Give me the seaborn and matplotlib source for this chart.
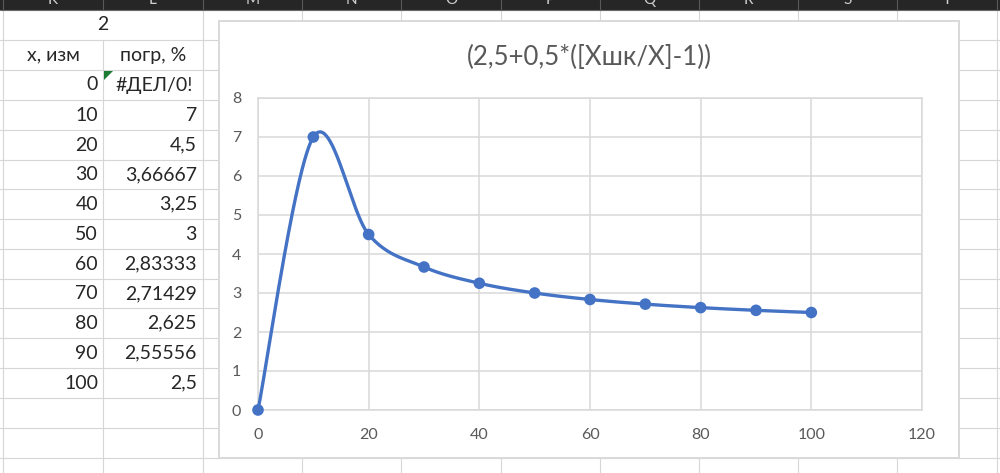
import numpy as np
import matplotlib
matplotlib.use("Agg")
import matplotlib.pyplot as plt
import seaborn as sns
from matplotlib.patches import Rectangle, Polygon

# данные из листа
x_izm = np.array([0, 10, 20, 30, 40, 50, 60, 70, 80, 90, 100])
pogr = np.array([np.nan, 7, 4.5, 3.66667, 3.25, 3, 2.83333, 2.71429, 2.625, 2.55556, 2.5])
cell_top = "2"
col_headers = ["x, изм", "погр, %"]
col_letters = ["K", "L", "M", "N", "O", "P", "Q", "R", "S", "T"]
chart_title = "(2,5+0,5*([Xшк/X]-1))"
x_ticks = [0, 20, 40, 60, 80, 100, 120]
y_ticks = [0, 1, 2, 3, 4, 5, 6, 7, 8]

# геометрия листа (пиксели)
W, H = 1000, 473
col_edges = [3, 103, 203, 302, 401, 501, 600, 699, 798, 897, 997]
row_edges = [10, 40, 70, 100, 130, 160, 189, 219, 249, 279, 308, 338, 368, 398, 428, 458]
chart_box = (219, 21, 959, 458)        # x0, y0, x1, y1
plot_box = (258, 98, 922, 410)

BLUE = "#4472C4"
GRID = "#d9d9d9"
LABEL = "#595959"

sns.set_style("white")
plt.rcParams['font.family'] = ['Lato', 'Noto Sans', 'DejaVu Sans']


def excel_smooth(xs, ys, sx, sy, n=60):
    # сглаживание как в Excel: кривые Безье с натяжением 1/6
    P = np.column_stack([xs * sx, ys * sy])
    out = []
    for i in range(len(P) - 1):
        p0 = P[i - 1] if i > 0 else P[i]
        p1, p2 = P[i], P[i + 1]
        p3 = P[i + 2] if i + 2 < len(P) else P[i + 1]
        d12 = np.linalg.norm(p2 - p1)
        d02 = np.linalg.norm(p2 - p0)
        d13 = np.linalg.norm(p3 - p1)
        f0 = 1 / 6 if d02 / 6 < d12 / 2 else d12 / (2 * d02)
        f1 = 1 / 6 if d13 / 6 < d12 / 2 else d12 / (2 * d13)
        c1 = p1 + (p2 - p0) * f0
        c2 = p2 - (p3 - p1) * f1
        t = np.linspace(0, 1, n)[:, None]
        seg = ((1 - t) ** 3) * p1 + 3 * ((1 - t) ** 2) * t * c1 + 3 * (1 - t) * t ** 2 * c2 + t ** 3 * p2
        out.append(seg if i == 0 else seg[1:])
    out = np.vstack(out)
    return out[:, 0] / sx, out[:, 1] / sy


fig = plt.figure(figsize=(W / 100, H / 100), dpi=100)

# ---------------- лист Excel ----------------
bg = fig.add_axes([0, 0, 1, 1])
bg.set_xlim(0, W)
bg.set_ylim(H, 0)
bg.axis('off')

# сетка ячеек
for y in row_edges[1:]:
    bg.plot([0, W], [y, y], color="#d6d6d6", lw=0.8, zorder=1)
for x in col_edges:
    y_start = 40 if x == 103 else 10  # K2:L2 объединены
    bg.plot([x, x], [y_start, H], color="#d6d6d6", lw=0.8, zorder=1)

# заголовок столбцов
bg.add_patch(Rectangle((0, 0), W, 10, facecolor="#262626", edgecolor="none", zorder=2))
bg.plot([0, W], [10, 10], color="#6a6a6a", lw=0.8, zorder=3)
for x in col_edges:
    bg.plot([x, x], [0, 10], color="#5a5a5a", lw=0.8, zorder=3)
for i, letter in enumerate(col_letters):
    cx = (col_edges[i] + col_edges[i + 1]) / 2
    bg.text(cx, 4, letter, color="#cfcfcf", fontsize=11, ha='center', va='baseline', zorder=4)

# ячейки
cell_fs = 14
bg.text(103, 25, cell_top, fontsize=cell_fs, ha='center', va='center', zorder=4)
bg.text(53, 55, col_headers[0], fontsize=cell_fs, ha='center', va='center', zorder=4)
bg.text(153, 55, col_headers[1], fontsize=cell_fs, ha='center', va='center', zorder=4)
for i, (xv, yv) in enumerate(zip(x_izm, pogr)):
    cy = (row_edges[i + 2] + row_edges[i + 3]) / 2
    bg.text(98, cy, str(xv), fontsize=cell_fs, ha='right', va='center', zorder=4)
    if np.isnan(yv):
        bg.text(154, cy, "#ДЕЛ/0!", fontsize=cell_fs, ha='center', va='center', zorder=4)
        bg.add_patch(Polygon([[104, 71], [113, 71], [104, 80]], closed=True,
                             facecolor="#1e7b34", edgecolor="none", zorder=4))
    else:
        bg.text(197, cy, f"{yv:.6g}".replace('.', ','), fontsize=cell_fs,
                ha='right', va='center', zorder=4)

# область диаграммы
cx0, cy0, cx1, cy1 = chart_box
bg.add_patch(Rectangle((cx0, cy0), cx1 - cx0, cy1 - cy0, facecolor="white",
                       edgecolor="#d9d9d9", lw=1.4, zorder=5))
bg.text((cx0 + cx1) / 2, 57, chart_title, fontsize=18.5, color=LABEL,
        ha='center', va='center', zorder=6)

# ---------------- график ----------------
px0, py0, px1, py1 = plot_box
ax = fig.add_axes([px0 / W, (H - py1) / H, (px1 - px0) / W, (py1 - py0) / H])
ax.set_facecolor("white")
ax.set_xlim(0, 120)
ax.set_ylim(0, 8)
ax.set_xticks(x_ticks)
ax.set_yticks(y_ticks)
ax.grid(True, color=GRID, lw=1.1)
for s in ax.spines.values():
    s.set_visible(True)
    s.set_color(GRID)
    s.set_linewidth(1.1)
ax.tick_params(length=0, labelsize=11.5, labelcolor=LABEL)
ax.tick_params(axis='y', pad=12)
ax.tick_params(axis='x', pad=13)

# ошибку #ДЕЛ/0! Excel рисует как 0
y_plot = np.nan_to_num(pogr, nan=0.0)
sx = (px1 - px0) / 120
sy = (py1 - py0) / 8
xs, ys = excel_smooth(x_izm.astype(float), y_plot, sx, sy)
sns.lineplot(x=xs, y=ys, sort=False, estimator=None, color=BLUE, lw=2.4, ax=ax, zorder=3)
sns.scatterplot(x=x_izm, y=y_plot, color=BLUE, s=70, edgecolor="none", ax=ax,
                zorder=4, clip_on=False)
for ln in ax.lines:
    ln.set_clip_on(False)
ax.set_xlabel("")
ax.set_ylabel("")

fig.savefig("out.png", dpi=100)
